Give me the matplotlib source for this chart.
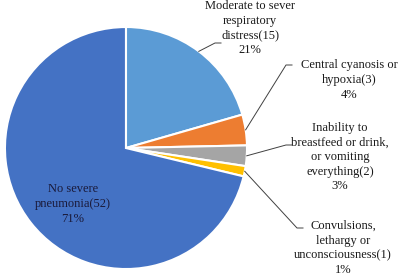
import numpy as np
import matplotlib.pyplot as plt

labels = ['Moderate to sever\nrespiratory\ndistress', 'Central cyanosis or\nhypoxia',
          'Inability to\nbreastfeed or drink,\nor vomiting\neverything',
          'Convulsions,\nlethargy or\nunconsciousness', 'No severe\npneumonia']
counts = [15, 3, 2, 1, 52]
colors = ['#5B9BD5', '#ED7D31', '#A5A5A5', '#FFC000', '#4472C4']

plt.rcParams['font.family'] = ['Liberation Serif', 'DejaVu Serif']

fig = plt.figure(figsize=(4, 2.75), dpi=100)
ax = fig.add_axes([0, 0, 1, 1])

H = 275
cx, cy, r = 126, H - 148, 121
wedges, _ = ax.pie(counts, colors=colors, startangle=90, counterclock=False,
                   explode=[0, 0, 0, 0, 0.05], center=(cx, cy), radius=r,
                   wedgeprops=dict(edgecolor='white', linewidth=1.5))
ax.set_xlim(0, 400)
ax.set_ylim(0, H)
ax.axis('off')

total = sum(counts)
texts = [f'{l}({c})\n{round(c / total * 100)}%' for l, c in zip(labels, counts)]

# text centres and leader elbows, pixel coords (y down)
text_pos = [(250, 28), (349, 80), (340, 157), (343, 248)]
elbows = [(215, 43), (286, 65), (286, 145), (297, 228)]
for i in range(4):
    w = wedges[i]
    mid = np.deg2rad((w.theta1 + w.theta2) / 2)
    x0, y0 = cx + r * np.cos(mid), cy + r * np.sin(mid)
    ex, ey = elbows[i]
    ax.plot([x0, ex, ex + 6], [y0, H - ey, H - ey], color='#404040', lw=0.7)
    tx, ty = text_pos[i]
    ax.text(tx, H - ty, texts[i], ha='center', va='center', fontsize=9,
            linespacing=1.3, color='#1a1a1a')

ax.text(73, H - 204, texts[4], ha='center', va='center', fontsize=9,
        linespacing=1.3, color='#1a1a3a')

fig.savefig('out.png', dpi=100)
